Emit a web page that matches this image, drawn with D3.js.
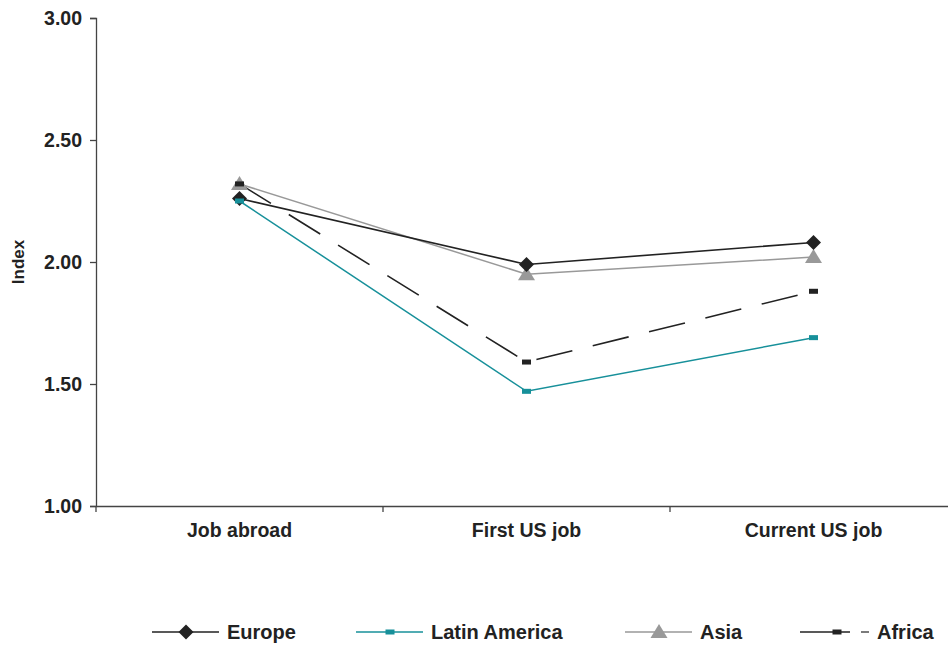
<!DOCTYPE html>
<html><head><meta charset="utf-8">
<script src="https://cdn.jsdelivr.net/npm/d3@7"></script>
<style>body{margin:0;background:#fff}svg{display:block;font-family:"Liberation Sans",Arial,sans-serif}</style>
</head><body><svg id="c" width="948" height="645"></svg>
<script>
const categories = ["Job abroad", "First US job", "Current US job"];
const europe = [2.26, 1.99, 2.08];
const latinAmerica = [2.25, 1.47, 1.69];
const asia = [2.32, 1.95, 2.02];
const africa = [2.32, 1.59, 1.88];
const yTicks = [1.0, 1.5, 2.0, 2.5, 3.0];
const seriesNames = ["Europe", "Latin America", "Asia", "Africa"];

const series = [
  {name: seriesNames[0], values: europe, color: "#222", width: 1.6, dash: null, marker: "diamond", mcolor: "#222"},
  {name: seriesNames[1], values: latinAmerica, color: "#17909a", width: 1.5, dash: null, marker: "rect", mcolor: "#17909a"},
  {name: seriesNames[2], values: asia, color: "#999", width: 1.5, dash: null, marker: "triangle", mcolor: "#999"},
  {name: seriesNames[3], values: africa, color: "#222", width: 1.6, dash: "37,21", marker: "rect", mcolor: "#222"}
];

const svg = d3.select("#c");
const x = d3.scaleBand().domain(categories).range([96, 957]);
const y = d3.scaleLinear().domain([1, 3]).range([506, 18]);

// Y axis
const yAxis = svg.append("g").attr("transform", "translate(96,0)")
  .call(d3.axisLeft(y).tickValues(yTicks).tickFormat(d3.format(".2f")).tickSizeOuter(0).tickSize(6));
yAxis.select(".domain").attr("stroke", "#444").attr("stroke-width", 1.3);
yAxis.selectAll(".tick line").attr("stroke", "#444").attr("stroke-width", 1.3);
yAxis.selectAll(".tick text").attr("font-size", 19.5).attr("font-weight", "bold").attr("fill", "#222").attr("x", -14);

// X axis
const xAxis = svg.append("g").attr("transform", "translate(0,506)")
  .call(d3.axisBottom(x).tickSize(0).tickSizeOuter(0));
xAxis.select(".domain").attr("stroke", "#444").attr("stroke-width", 1.3);
xAxis.selectAll(".tick text").attr("font-size", 19.5).attr("font-weight", "bold").attr("fill", "#222").attr("dy", "1.45em");
// category separator ticks
const bounds = categories.map(c => x(c));
svg.append("g").selectAll("line").data(bounds).join("line")
  .attr("x1", d => d).attr("x2", d => d).attr("y1", 506).attr("y2", 512)
  .attr("stroke", "#444").attr("stroke-width", 1.3);

// Y label
svg.append("text").attr("transform", "translate(24,262) rotate(-90)")
  .attr("text-anchor", "middle").attr("font-size", 17).attr("font-weight", "bold").attr("fill", "#222").text("Index");

const cx = c => x(c) + x.bandwidth() / 2;
const line = d3.line().x((d, i) => cx(categories[i])).y(d => y(d));

function drawMarker(g, type, color, px, py) {
  if (type === "diamond") {
    g.append("path").attr("d", `M${px},${py-7.5}L${px+7.5},${py}L${px},${py+7.5}L${px-7.5},${py}Z`).attr("fill", color);
  } else if (type === "triangle") {
    g.append("path").attr("d", `M${px},${py-8}L${px+8.5},${py+6}L${px-8.5},${py+6}Z`).attr("fill", color);
  } else {
    g.append("rect").attr("x", px - 4.5).attr("y", py - 2.5).attr("width", 9).attr("height", 5).attr("fill", color);
  }
}

const drawOrder = [2, 0, 1, 3];
drawOrder.forEach(k => {
  const s = series[k];
  const g = svg.append("g");
  g.append("path").attr("d", line(s.values)).attr("fill", "none")
    .attr("stroke", s.color).attr("stroke-width", s.width)
    .attr("stroke-dasharray", s.dash);
});
drawOrder.forEach(k => {
  const s = series[k];
  const g = svg.append("g");
  s.values.forEach((v, i) => drawMarker(g, s.marker, s.mcolor, cx(categories[i]), y(v)));
});

// Legend
const legendX = [152, 356, 625, 800];
const lg = svg.append("g");
series.forEach((s, i) => {
  const x0 = legendX[i], ly = 632;
  if (s.dash) {
    lg.append("line").attr("x1", x0).attr("x2", x0 + 50).attr("y1", ly).attr("y2", ly).attr("stroke", s.color).attr("stroke-width", 1.6);
    lg.append("line").attr("x1", x0 + 61).attr("x2", x0 + 69).attr("y1", ly).attr("y2", ly).attr("stroke", s.color).attr("stroke-width", 1.2);
    drawMarker(lg, s.marker, s.mcolor, x0 + 37, ly);
  } else {
    lg.append("line").attr("x1", x0).attr("x2", x0 + 67).attr("y1", ly).attr("y2", ly).attr("stroke", s.color).attr("stroke-width", s.width);
    drawMarker(lg, s.marker, s.mcolor, x0 + 34, ly);
  }
  lg.append("text").attr("x", x0 + (s.dash ? 77 : 75)).attr("y", ly).attr("dy", "0.35em")
    .attr("font-size", 20).attr("font-weight", "bold").attr("fill", "#222").text(s.name);
});
</script></body></html>
